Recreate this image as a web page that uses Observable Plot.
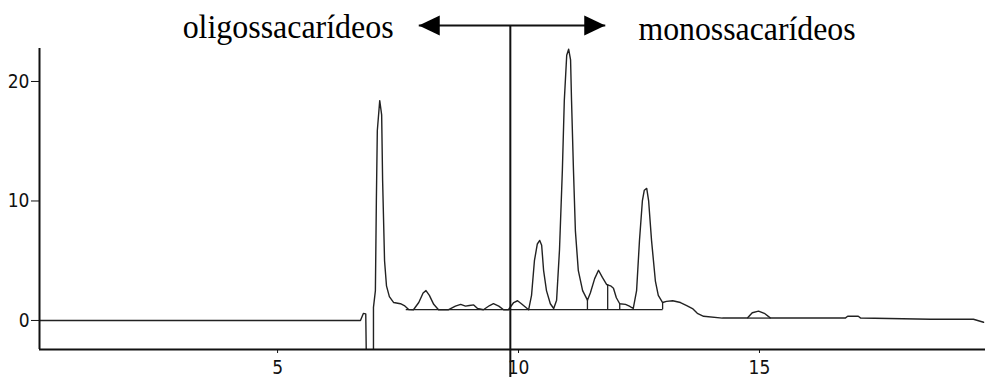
<!DOCTYPE html>
<html>
<head>
<meta charset="utf-8">
<script src="https://cdn.jsdelivr.net/npm/d3@7"></script>
<script src="https://cdn.jsdelivr.net/npm/@observablehq/plot@0.6"></script>
<style>
  html, body { margin: 0; padding: 0; background: #fff; }
  #chart svg { display: block; }
</style>
</head>
<body>
<div id="chart"></div>
<script>
// Retention time (min) and detector signal
const time = [0.06, 6.72, 6.78, 6.83, 6.84, 6.99, 6.99, 7.03, 7.05, 7.07, 7.12, 7.16, 7.18, 7.22, 7.26, 7.32, 7.41, 7.55, 7.63, 7.72,
  7.82, 7.93, 8.02, 8.08, 8.15, 8.24, 8.34, 8.55, 8.69, 8.80, 8.90, 8.98, 9.07, 9.15, 9.27, 9.40, 9.48, 9.59, 9.69, 9.79,
  9.90, 9.98, 10.06, 10.21, 10.27, 10.33, 10.39, 10.44, 10.48, 10.52, 10.58, 10.66, 10.73, 10.79, 10.85, 10.91, 10.95, 11.00, 11.04, 11.08,
  11.10, 11.14, 11.18, 11.24, 11.33, 11.43, 11.49, 11.58, 11.66, 11.74, 11.83, 11.91, 11.97, 12.03, 12.10, 12.22, 12.30, 12.38, 12.45, 12.51,
  12.57, 12.61, 12.66, 12.70, 12.76, 12.84, 12.90, 12.99, 13.07, 13.20, 13.36, 13.49, 13.61, 13.71, 13.84, 14.23, 14.75, 14.85, 14.98, 15.10,
  15.23, 16.78, 16.83, 17.05, 17.10, 18.55, 19.44, 19.65];
const signal = [0, 0, 0.59, 0.55, -2.5, -2.5, 1.1, 2.5, 10.0, 15.9, 18.4, 17.2, 11.7, 5.0, 2.9, 2.0, 1.5, 1.4, 1.25, 0.92,
  0.9, 1.5, 2.3, 2.5, 2.1, 1.35, 0.9, 0.9, 1.2, 1.35, 1.2, 1.25, 1.3, 1.0, 0.9, 1.25, 1.4, 1.2, 0.9, 0.9,
  1.5, 1.65, 1.4, 0.9, 2.1, 5.0, 6.4, 6.7, 6.3, 4.2, 2.5, 1.4, 1.0, 1.7, 5.9, 12.6, 18.4, 22.2, 22.7, 21.8,
  18.4, 12.6, 7.5, 4.2, 2.5, 1.7, 2.3, 3.5, 4.2, 3.6, 3.0, 2.9, 2.7, 1.9, 1.4, 1.35, 1.2, 1.0, 2.5, 6.7,
  10.0, 10.9, 11.05, 10.0, 6.7, 3.3, 2.1, 1.5, 1.6, 1.65, 1.5, 1.25, 1.0, 0.6, 0.35, 0.2, 0.2, 0.65, 0.78, 0.6,
  0.2, 0.2, 0.35, 0.35, 0.2, 0.1, 0.1, -0.15];

// Integration baselines and peak drop lines
const baseStart = [7.66, 14.75];
const baseEnd = [12.99, 15.23];
const baseLevel = [0.9, 0.2];
const dropTime = [11.43, 11.85, 12.10, 12.99];
const dropTop = [1.7, 3.0, 1.4, 1.5];

// Axes
const xDomain = [0.06, 19.69];
const yDomain = [-2.43, 22.76];
const xTicks = [5, 10, 15];
const yTicks = [0, 10, 20];

// Annotation
const labels = ["oligossacarídeos", "monossacarídeos"];
const labelX = [3.03, 12.49];
const labelY = [23.6, 23.5];
const labelWidth = [211, 217];
const arrowLeft = 7.93, arrowRight = 11.80, arrowY = 24.69;
const dividerX = 9.83, dividerBottom = -4.8;

const chroma = time.map((t, i) => ({t, s: signal[i]}));
const bases = baseStart.map((b, i) => ({x1: b, x2: baseEnd[i], y: baseLevel[i]}));
const drops = dropTime.map((t, i) => ({x: t, y1: baseLevel[0], y2: dropTop[i]}));
const labelData = labels.map((l, i) => ({l, x: labelX[i], y: labelY[i]}));

const triRight = {draw(ctx, size) { const s = Math.sqrt(size / Math.PI); ctx.moveTo(0, 0); ctx.lineTo(-2.1 * s, -s); ctx.lineTo(-2.1 * s, s); ctx.closePath(); }};
const triLeft = {draw(ctx, size) { const s = Math.sqrt(size / Math.PI); ctx.moveTo(0, 0); ctx.lineTo(2.1 * s, -s); ctx.lineTo(2.1 * s, s); ctx.closePath(); }};

const tickFont = "'Liberation Sans Narrow','DejaVu Sans Condensed','Arial Narrow',sans-serif";

const chart = Plot.plot({
  width: 985,
  height: 377,
  marginLeft: 39,
  marginRight: 0,
  marginTop: 48,
  marginBottom: 28,
  style: {fontFamily: tickFont, fontSize: "19px", color: "#111", background: "#fff", overflow: "visible"},
  x: {domain: xDomain},
  y: {domain: yDomain},
  marks: [
    Plot.axisX({ticks: xTicks, tickSize: 4, tickPadding: 7, tickFormat: d => String(d), stroke: "#111", fill: "#111", fontSize: 19}),
    Plot.axisY({ticks: yTicks, tickSize: 8, tickPadding: 2, tickFormat: d => String(d), stroke: "#111", fill: "#111", fontSize: 19}),
    Plot.link(bases, {x1: "x1", x2: "x2", y1: "y", y2: "y", stroke: "#222", strokeWidth: 1.3}),
    Plot.ruleX(drops, {x: "x", y1: "y1", y2: "y2", stroke: "#222", strokeWidth: 1.3}),
    Plot.line(chroma, {x: "t", y: "s", stroke: "#222", strokeWidth: 1.4, clip: true}),
    Plot.ruleX([xDomain[0]], {stroke: "#111", strokeWidth: 2}),
    Plot.ruleY([yDomain[0]], {stroke: "#111", strokeWidth: 2}),
    Plot.ruleX([dividerX], {y1: arrowY, y2: dividerBottom, stroke: "#111", strokeWidth: 2}),
    Plot.link([{x1: arrowLeft, x2: arrowRight, y: arrowY}], {x1: "x1", x2: "x2", y1: "y", y2: "y", stroke: "#111", strokeWidth: 2}),
    Plot.dot([{x: arrowLeft, y: arrowY}], {x: "x", y: "y", symbol: triLeft, r: 10, fill: "#000", stroke: "none"}),
    Plot.dot([{x: arrowRight, y: arrowY}], {x: "x", y: "y", symbol: triRight, r: 10, fill: "#000", stroke: "none"}),
    Plot.text(labelData, {x: "x", y: "y", text: "l", textAnchor: "start", lineAnchor: "bottom", fontFamily: "'Liberation Serif','Times New Roman',serif", fontSize: 33, fill: "#000", className: "anno"})
  ]
});
document.getElementById("chart").appendChild(chart);
// fit annotation text to the measured widths
d3.select(chart).selectAll("g.anno text").each(function(d, i) {
  this.setAttribute("textLength", labelWidth[i]);
  this.setAttribute("lengthAdjust", "spacingAndGlyphs");
});
</script>
</body>
</html>
